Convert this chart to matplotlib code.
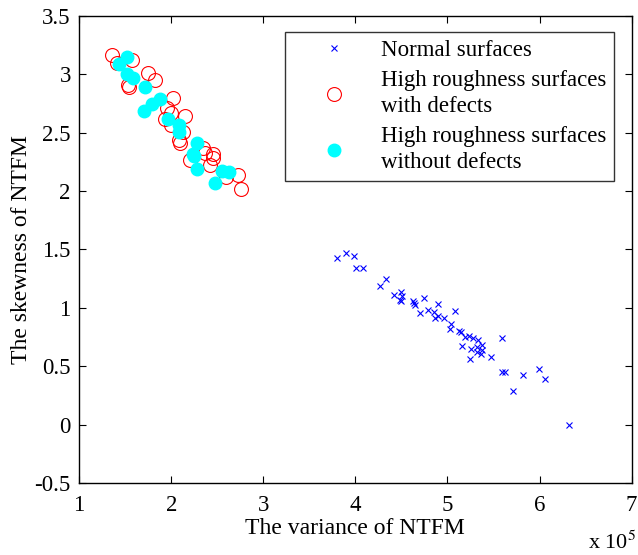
import matplotlib
matplotlib.use("Agg")
import matplotlib.pyplot as plt

# values (x in units of 1e5)
normal_x = [3.80, 3.90, 3.98, 4.01, 4.08, 4.27, 4.33, 4.42, 4.49, 4.50, 4.51, 4.50,
            4.63, 4.65, 4.64, 4.70, 4.74, 4.79, 4.85, 4.90, 4.86, 4.90, 4.96, 5.08,
            5.04, 5.03, 5.12, 5.15, 5.19, 5.23, 5.28, 5.33, 5.16, 5.26, 5.32, 5.38,
            5.37, 5.32, 5.24, 5.36, 5.47, 5.59, 5.59, 5.62, 5.82, 5.71, 5.99, 6.06, 6.32]
normal_y = [1.43, 1.47, 1.44, 1.345, 1.345, 1.19, 1.25, 1.107, 1.07, 1.135, 1.10, 1.06,
            1.056, 1.02, 1.04, 0.955, 1.08, 0.985, 0.965, 1.03, 0.916, 0.927, 0.916, 0.97,
            0.864, 0.82, 0.80, 0.79, 0.75, 0.756, 0.744, 0.727, 0.67, 0.65, 0.66, 0.68,
            0.64, 0.62, 0.565, 0.60, 0.578, 0.744, 0.45, 0.45, 0.42, 0.29, 0.478, 0.39, 0.0]

defect_x = [1.36, 1.41, 1.57, 1.54, 1.53, 1.75, 1.82, 2.02, 1.95, 1.93, 2.00, 2.15,
            2.00, 2.13, 2.08, 2.10, 2.20, 2.34, 2.37, 2.45, 2.45, 2.42, 2.59, 2.73, 2.76]
defect_y = [3.17, 3.10, 3.12, 2.89, 2.91, 3.01, 2.95, 2.80, 2.71, 2.62, 2.67, 2.64,
            2.565, 2.51, 2.44, 2.41, 2.265, 2.37, 2.33, 2.32, 2.28, 2.22, 2.12, 2.14, 2.02]

nodefect_x = [1.43, 1.52, 1.52, 1.59, 1.72, 1.70, 1.79, 1.88, 1.97, 2.08, 2.09,
              2.28, 2.24, 2.25, 2.28, 2.55, 2.63, 2.48]
nodefect_y = [3.09, 3.15, 3.00, 2.97, 2.89, 2.69, 2.75, 2.79, 2.62, 2.565, 2.51,
              2.41, 2.32, 2.30, 2.19, 2.17, 2.16, 2.07]

labels = ["Normal surfaces", "High roughness surfaces\nwith defects",
          "High roughness surfaces\nwithout defects"]

plt.rcParams["font.family"] = ["Liberation Serif", "DejaVu Serif"]
plt.rcParams["mathtext.fontset"] = "stix"

fig = plt.figure(figsize=(6.38, 5.55), dpi=100)
ax = fig.add_axes([0.124, 0.13, 0.866, 0.841])

ax.plot(normal_x, normal_y, "x", color="blue", markersize=5, markeredgewidth=0.8,
        linestyle="none", label=labels[0])
ax.plot(defect_x, defect_y, "o", markerfacecolor="none", markeredgecolor="red",
        markersize=10, markeredgewidth=0.8, linestyle="none", label=labels[1])
ax.plot(nodefect_x, nodefect_y, "o", color="cyan", markersize=9,
        linestyle="none", label=labels[2])

ax.set_xlim(1, 7)
ax.set_ylim(-0.5, 3.5)
ax.set_xticks([1, 2, 3, 4, 5, 6, 7])
ax.set_yticks([-0.5, 0, 0.5, 1, 1.5, 2, 2.5, 3, 3.5])
ax.set_yticklabels(["-0.5", "0", "0.5", "1", "1.5", "2", "2.5", "3", "3.5"])
ax.tick_params(direction="in", top=True, right=True, labelsize=16.5, length=5, width=0.8)
ax.tick_params(axis="x", pad=9)
ax.tick_params(axis="y", pad=6)
for s in ax.spines.values():
    s.set_linewidth(1.0)

ax.set_xlabel("The variance of NTFM", fontsize=17, labelpad=1)
ax.set_ylabel("The skewness of NTFM", fontsize=17, labelpad=2)
fig.text(0.922, 0.01, r"x 10$^{5}$", fontsize=16)

leg = ax.legend(loc="upper right", bbox_to_anchor=(0.969, 0.966), borderaxespad=0,
                fontsize=16.5, frameon=True, fancybox=False, edgecolor="black",
                handlelength=3.6, handletextpad=0.25, borderpad=0.35, labelspacing=0.4)
leg.get_frame().set_linewidth(1.0)
for t in leg.get_texts():
    t.set_linespacing(1.3)

fig.savefig("out.png", dpi=100)
